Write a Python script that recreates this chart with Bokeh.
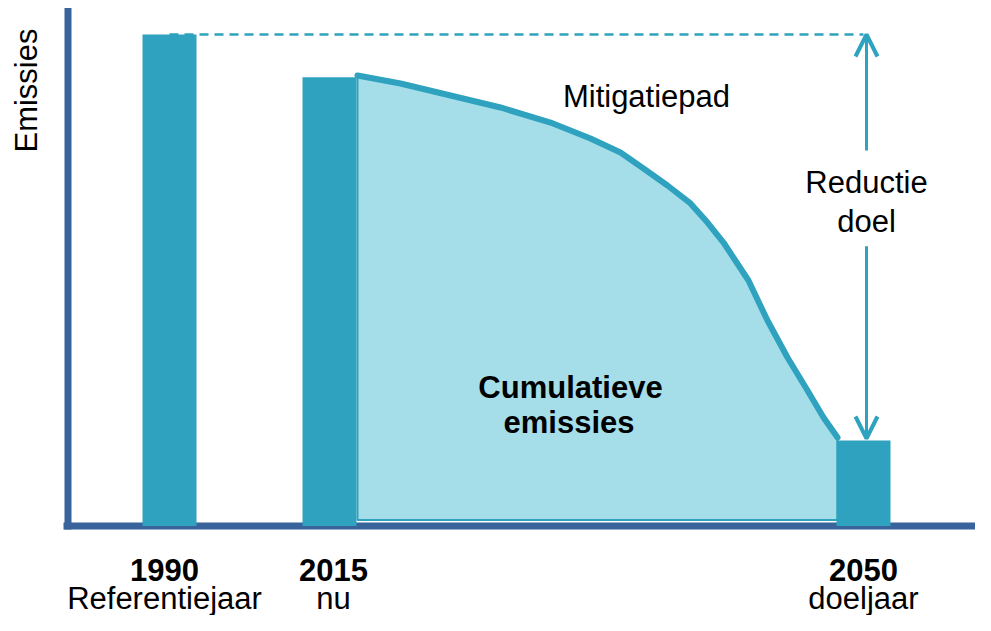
from math import pi
from bokeh.plotting import figure
from bokeh.models import Range1d, Arrow, OpenHead
from bokeh.core.properties import value
from bokeh.embed import file_html
from bokeh.resources import INLINE

# ---- data (schematic units: x = time position, y = emissions, 1990 = 100) ----
years = ["1990", "2015", "2050"]
year_notes = ["Referentiejaar", "nu", "doeljaar"]
bar_pos = [10.15, 26.15, 79.55]
emissions = [100, 91.3, 17.4]

# mitigation path from 2015 to 2050
path_x = [28.95, 33.25, 38.25, 43.25, 48.25, 52.25, 55.25, 57.55, 59.95, 62.25,
          63.95, 65.55, 68.05, 69.95, 71.95, 73.95, 75.55, 76.95]
path_y = [91.66, 90.03, 87.59, 85.15, 82.09, 78.84, 75.99, 72.74, 69.28, 65.62,
          61.75, 57.68, 49.95, 41.81, 34.28, 27.57, 22.08, 18.01]

TEAL = "#2EA2BE"
LIGHT = "#A5DDE9"
AXIS = "#39639B"
FONT = value("Liberation Sans")

p = figure(width=975, height=615,
           x_range=Range1d(-6.75, 90.75), y_range=Range1d(-18.21, 106.92),
           output_backend="svg", toolbar_location=None,
           x_axis_location=None, y_axis_location=None,
           min_border=0, outline_line_color=None)
p.xgrid.visible = False
p.ygrid.visible = False

# axes (drawn by hand)
p.line(x=[0, 0], y=[-0.7, 105.4], line_color=AXIS, line_width=7)
p.line(x=[-0.45, 90.75], y=[0, 0], line_color=AXIS, line_width=7)

# cumulative emissions area
base = 1.2
p.patch(x=path_x + [path_x[-1], path_x[0]], y=path_y + [base, base],
        fill_color=LIGHT, line_color=TEAL, line_width=2)

# bars
p.vbar(x=bar_pos, width=5.4, top=emissions, bottom=0, fill_color=TEAL, line_color=None)

# mitigation path line
p.line(x=path_x, y=path_y, line_color=TEAL, line_width=6, line_cap="round", line_join="round")

# reference dashed line
p.line(x=[bar_pos[0], bar_pos[2]], y=[emissions[0], emissions[0]],
       line_color=TEAL, line_width=2.5, line_dash="9 6")

# reduction arrows
ax = bar_pos[2] + 0.3
p.add_layout(Arrow(end=OpenHead(size=22, line_color=TEAL, line_width=4),
                   x_start=ax, y_start=76.4, x_end=ax, y_end=emissions[0],
                   line_color=TEAL, line_width=3))
p.add_layout(Arrow(end=OpenHead(size=22, line_color=TEAL, line_width=4),
                   x_start=ax, y_start=56.9, x_end=ax, y_end=emissions[2] + 0.4,
                   line_color=TEAL, line_width=3))

# texts
def txt(x, y, s, bold=False, angle=0.0):
    p.text(x=[x], y=[y], text=[s], text_font=FONT, text_font_size="31px",
           text_font_style="bold" if bold else "normal", text_color="black",
           text_align="center", text_baseline="alphabetic", angle=angle)

dy = 2.14
txt(ax, 67.65 + dy, "Reductie")
txt(ax, 59.9 + dy, "doel")
txt(57.85, 85.15 + dy, "Mitigatiepad")
txt(50.25, 26.14 + dy, "Cumulatieve", bold=True)
txt(50.1, 19.0 + dy, "emissies", bold=True)
txt(-4.15, 88.6, "Emissies", angle=pi / 2)

label_shift = [-5, 4, 0]  # px, small horizontal nudges of the bottom labels
p.text(x=bar_pos, y=[-8.9] * 3, text=years, text_font=FONT, text_font_size="31px",
       text_font_style="bold", text_color="black", text_align="center", text_baseline="alphabetic",
       x_offset=label_shift)
p.text(x=bar_pos, y=[-14.85] * 3, text=year_notes, text_font=FONT, text_font_size="31px",
       text_color="black", text_align="center", text_baseline="alphabetic",
       x_offset=label_shift)

open("out.html", "w").write(file_html(p, INLINE))
